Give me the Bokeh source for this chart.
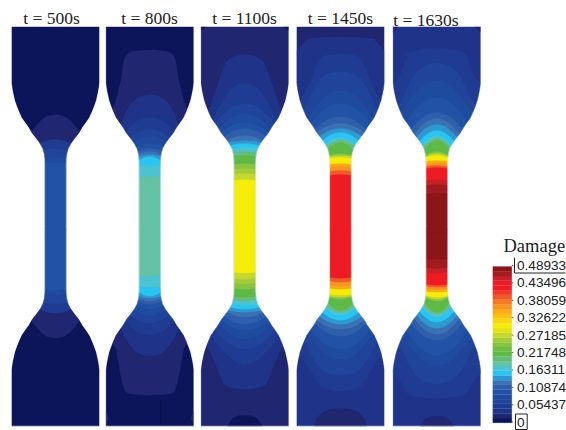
import numpy as np
from bokeh.plotting import figure
from bokeh.embed import file_html
from bokeh.resources import INLINE
from bokeh.core.properties import value

TITLES = ["t = 500s", "t = 800s", "t = 1100s", "t = 1450s", "t = 1630s"]
TITLE_X = [51, 149, 244, 340, 425.5]
TITLE_Y = [17, 17, 17, 17, 19]
CENTERS = [55, 149.3, 244.3, 340, 436.3]
TOP_Y, BOT_Y = 26, 425.7
RAMP = ["#0c1559", "#20266f", "#1f3488", "#1f3c92", "#1f4499", "#1f4b9f", "#2252a5", "#2f5fab",
        "#3a72b3", "#2f98d2", "#2ac4f0", "#4cc3d0", "#66c2a5", "#66bd7a", "#5eb946", "#6bbd45",
        "#88c440", "#a3cc3a", "#c6d72f", "#e4e31a", "#f5ec0a", "#fbd80f", "#fcc113", "#fbaa18",
        "#f89420", "#f47a25", "#f15a29", "#ef3b2c", "#ed1c24", "#ed1c24", "#c51f27", "#a01a1f", "#8b1518"]
TICK_VALUES = [0.48933, 0.43496, 0.38059, 0.32622, 0.27185, 0.21748, 0.16311, 0.10874, 0.05437, 0]
TICK_LABELS = ["0.48933", "0.43496", "0.38059", "0.32622", "0.27185", "0.21748", "0.16311", "0.10874", "0.05437", "0"]
VMAX = 0.48933

# half-width of the specimen against distance from its end
OUT_D = [0, 56, 60, 65, 70, 74, 80, 85, 91, 96, 101, 107, 112, 117, 122, 127, 132, 137, 200]
OUT_W = [44, 44, 43.6, 42.8, 41.7, 40.8, 38.7, 36.7, 34, 30.6, 27, 23.5, 19.5, 15.8, 13, 11.6, 10.9, 10.7, 10.7]

# contours: (level, distances, half-widths) or (level, tip distance, edge distance)
S1 = [(0, [0], [99]), (1, [88, 89, 94, 100, 107], [0, 8, 15, 20, 26]), (3, 113, 117), (4, 122, 124), (5, 131, 132), (6, 136, 137)]
S2_TOP = [(0, [0], [99]), (1, [23.3, 24, 27, 34, 54, 74, 85], [0, 16, 22.6, 26, 29, 34, 38]),
          (2, [68, 69, 73, 80, 90, 101], [0, 8, 15, 21, 26, 30]), (3, [91, 93, 99, 108], [0, 11, 19, 26]),
          (4, 103, 111), (5, 110, 116), (6, 117, 121), (7, 122, 125), (8, 125, 128), (9, 128, 130),
          (10, 130, 134), (11, 139, 140), (12, 150, 151)]
S2_BOT = [(0, [0], [99]), (1, [31, 31.5, 35, 44, 60, 77, 84], [0, 20, 25, 28, 31, 34, 38]),
          (2, [70, 71, 75, 82, 90, 99], [0, 8, 15, 21, 26, 30]), (3, [91, 93, 99, 108], [0, 11, 19, 26]),
          (4, 103, 111), (5, 110, 116), (6, 117, 121), (7, 122, 125), (8, 125, 128), (9, 128, 130),
          (10, 130, 134), (11, 139, 140), (12, 150, 151)]
NECK3 = [(5, 87, 102), (6, 96, 106), (7, 102, 110), (8, 109, 114), (9, 114, 116), (10, 117, 119), (11, 121, 122),
         (13, 125, 127), (14, 129, 130), (16, 137, 138), (17, 142, 143), (18, 147, 148), (20, 153, 154)]
S3_TOP = [(1, [0], [99]), (2, [28, 29, 34, 42, 54, 74, 87], [0, 10, 18, 22, 26, 33, 37]),
          (3, [56.7, 58, 63, 70, 80, 90, 100], [0, 8, 15, 20, 26, 31, 35]),
          (4, [76.7, 78, 83, 92, 100], [0, 9, 17, 27, 32])] + NECK3
S3_BOT = [(1, [0], [99]), (2, [36.7, 37.5, 41, 61, 77, 82], [0, 12, 21, 29.3, 36, 39]),
          (3, [61.3, 63, 71, 84, 92], [0, 8, 18, 30, 34]),
          (4, [77, 78, 83, 92, 100], [0, 9, 17, 27, 32])] + NECK3
NECK4 = [(6, 77, 97), (7, 90, 103), (8, 97, 106), (8, 100, 108), (9, 102, 110), (10, 106, 114),
         (11, 111, 118), (13, 114, 120), (14, 116, 124), (16, 127, 129), (18, 129, 130), (20, 131, 132),
         (23, 137, 138), (24, 140, 141), (26, 144, 145), (28, 148, 149)]
S4_TOP = [(1, [0], [99]), (2, [10.3, 10.7, 12, 20, 26], [0, 25, 33, 40, 46]),
          (3, [27.3, 28, 31, 41, 54, 65, 74], [0, 12, 20, 25, 30, 35, 41]),
          (4, [45, 46, 52, 60, 75, 90], [0, 12, 20, 26, 33, 40]),
          (5, [64, 65, 72, 82, 93], [0, 10, 18, 26, 33])] + NECK4
S4_BOT = [(2, [0], [99]), (3, [35, 36, 40, 50, 63, 72], [0, 12, 20, 26.7, 35, 43]),
          (4, [50.7, 52, 57, 65, 78, 92], [0, 12, 20, 26, 33, 40]),
          (5, [66.7, 68, 74, 84, 95], [0, 10, 18, 26, 33])] + NECK4
NECK5 = [(6, 71, 96), (7, 86, 103), (8, 92, 108), (8, 96, 110), (9, 98, 111), (9, 102, 113), (10, 104, 115),
         (11, 109, 119), (13, 112, 121), (14, 114, 124), (16, 125, 129), (18, 127, 130), (20, 129, 131),
         (23, 134, 135), (24, 136.5, 137.5), (26, 139, 140), (28, 141, 142), (30, 153, 154), (31, 158, 159), (32, 166.7, 167.5)]
S5_TOP = [(2, [0], [99]), (3, [21.7, 22, 25, 28, 41, 54, 57], [0, 13, 25, 30, 33, 40, 46]),
          (4, [35.7, 39, 45, 54, 70, 82], [0, 12, 20, 26, 33, 40]),
          (5, [54, 56, 62, 72, 85], [0, 10, 17, 26, 35])] + NECK5
S5_BOT = [(2, [0], [99]), (3, [28, 29, 33, 45, 55], [0, 22, 30, 37, 46]),
          (4, [42, 44, 50, 58, 72, 84], [0, 12, 20, 26, 33, 40]),
          (5, [60, 62, 68, 78, 90], [0, 10, 17, 26, 35])] + NECK5
TOPS = [S1, S2_TOP, S3_TOP, S4_TOP, S5_TOP]
BOTS = [S1, S2_BOT, S3_BOT, S4_BOT, S5_BOT]

# small pieces at the grip ends: (specimen, end, level, half-widths, distances)
END_PIECES = [
    (1, "bot", 1, [44, 41, 44], [1, 8, 15]),
    (2, "top", 0, [44, 38, 44], [0, 0, 4]),
    (2, "bot", 0, [17.5, 12, 6, 0, -6, -12, -17.5], [0, 8, 10.5, 10.7, 10.5, 8, 0]),
    (3, "bot", 1, [26, 24, 18, 8, 0, -8, -18, -24, -26], [0, 8, 14, 17.5, 17.7, 17.5, 14, 8, 0]),
    (4, "top", 1, [44, 38, 44], [0, 0, 6]),
    (4, "bot", 1, [17, 12, 6, 0, -6, -12, -17], [0, 7, 9.7, 10, 9.7, 7, 0]),
]

p = figure(width=566, height=430, x_range=(0, 566), y_range=(430, 0), min_border=0,
           toolbar_location=None, output_backend="svg", outline_line_color=None)
p.axis.visible = False
p.grid.visible = False
p.background_fill_color = "white"


def outline(d):
    return np.interp(d, OUT_D, OUT_W)


def region(c, end, contour, stop=200.0):
    level = contour[0]
    if isinstance(contour[1], list):
        tip = contour[1][0]
        ds = np.arange(tip, stop + 0.25, 0.5)
        if len(contour[1]) == 1:
            w = np.full_like(ds, 99.0)
        else:
            w = np.interp(ds, contour[1], contour[2], right=99.0)
            last = contour[1][-1]
            k = np.ones(5) / 5
            sm = np.convolve(np.pad(w, 2, mode="edge"), k, mode="valid")
            w = np.where(ds < last, sm, w)
            w[0] = 0
    else:
        tip, edge = contour[1], contour[2]
        ds = np.arange(tip, stop + 0.25, 0.25)
        H = float(outline(edge))
        t = np.clip((ds - tip) / (edge - tip), 0, None)
        w = np.where(t <= 1, H * np.sqrt(t), 99.0)
    w = np.minimum(w, outline(ds))
    y = TOP_Y + ds if end == "top" else BOT_Y - ds
    xs = np.concatenate([c - w, (c + w)[::-1]])
    ys = np.concatenate([y, y[::-1]])
    col = RAMP[level]
    p.patch(xs, ys, fill_color=col, line_color=col, line_width=0.2)


for i, c in enumerate(CENTERS):
    for cont in BOTS[i]:
        region(c, "bot", cont)
    for j, cont in enumerate(TOPS[i]):
        region(c, "top", cont, stop=206.0 if j == len(TOPS[i]) - 1 else 199.0)

for spec, end, level, ws, ds in END_PIECES:
    c = CENTERS[spec]
    ys = [(TOP_Y + d) if end == "top" else (BOT_Y - d) for d in ds]
    col = RAMP[level]
    if ws[0] == ws[-1] and ws[0] == 44:
        p.patch([c - w for w in ws], ys, fill_color=col, line_color=col, line_width=0.2)
        p.patch([c + w for w in ws], ys, fill_color=col, line_color=col, line_width=0.2)
    else:
        p.patch([c + w for w in ws], ys, fill_color=col, line_color=col, line_width=0.2)

# thin dark seam in the lower grip at t = 800s
p.segment(x0=[160], x1=[160], y0=[400], y1=[425], line_color="#0a1148", line_width=0.7)

# pale fringe along the outline, hiding the stacked edges of the layers
for c in CENTERS:
    ds = np.arange(0, 200.25, 0.5)
    w = outline(ds)
    for sign in (-1, 1):
        for ys in (TOP_Y + ds, BOT_Y - ds):
            p.line(c + sign * (w + 1.0), ys, line_color="white", line_width=1.3)
            p.line(c + sign * (w + 0.1), ys, line_color="white", line_width=1.0, line_alpha=0.55)
    for yy in (TOP_Y, BOT_Y):
        p.segment(x0=[c - 44.5], x1=[c + 44.5], y0=[yy], y1=[yy], line_color="white", line_width=1.0, line_alpha=0.6)

# colour bar
BAR_L, BAR_R, BAR_T, BAR_B = 492.3, 511.3, 266, 422.3
n = len(RAMP)
h = (BAR_B - BAR_T) / n
p.quad(left=BAR_L, right=BAR_R, top=[BAR_B - (i + 1) * h for i in range(n)],
       bottom=[BAR_B - i * h for i in range(n)], fill_color=RAMP, line_color=RAMP, line_width=0.2)

label_y = [265 + i * 17.41 for i in range(9)] + [421.5]
p.segment(x0=BAR_R, x1=BAR_R + 1.5, y0=label_y, y1=label_y, line_color="#333333", line_width=0.8)
p.text(x=[516.5] * 10, y=label_y, text=TICK_LABELS, text_font=value("Liberation Sans"),
       text_font_size="13.6px", text_baseline="middle", text_align="left", text_color="#222222")

# frames round the first and last labels
p.line([514, 514, 565], [257, 272.5, 272.5], line_color="#222222", line_width=1)
p.line([515, 526.7, 526.7, 515, 515], [413.5, 413.5, 429, 429, 413.5], line_color="#222222", line_width=1)

p.text(x=[503], y=[245], text=["Damage"], text_font=value("Liberation Serif"), text_font_size="18.5px",
       text_baseline="alphabetic", text_align="left", text_color="#222222")
p.text(x=TITLE_X, y=TITLE_Y, text=TITLES, text_font=value("Liberation Serif"), text_font_size="17.5px",
       text_baseline="alphabetic", text_align="center", text_color="#222222")

open("out.html", "w").write(file_html(p, INLINE))
